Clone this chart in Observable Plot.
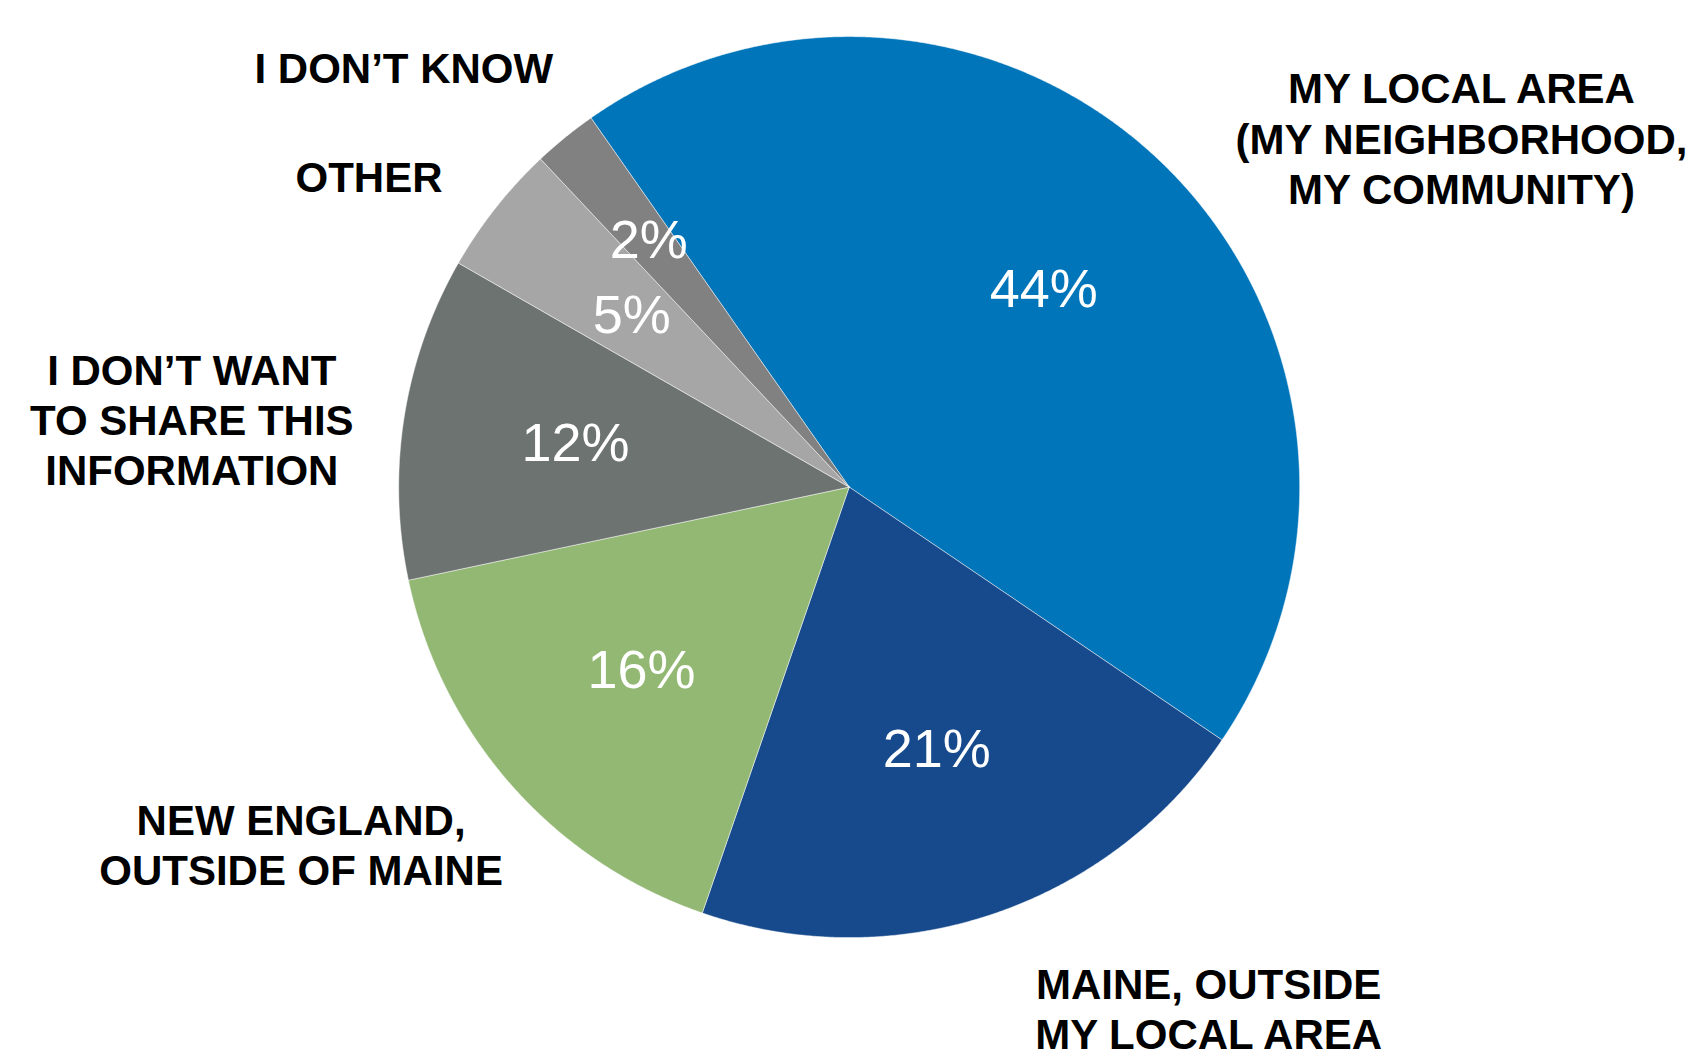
<!DOCTYPE html>
<html>
<head>
<meta charset="utf-8">
<script src="https://cdn.jsdelivr.net/npm/d3@7"></script>
<script src="https://cdn.jsdelivr.net/npm/@observablehq/plot@0.6"></script>
<style>
  html, body { margin: 0; padding: 0; background: #fff; }
  #chart svg { display: block; }
</style>
</head>
<body>
<div id="chart"></div>
<script>
// ---- data ----
const categories = [
  "MY LOCAL AREA\n(MY NEIGHBORHOOD,\nMY COMMUNITY)",
  "MAINE, OUTSIDE\nMY LOCAL AREA",
  "NEW ENGLAND,\nOUTSIDE OF MAINE",
  "I DON\u2019T WANT\nTO SHARE THIS\nINFORMATION",
  "OTHER",
  "I DON\u2019T KNOW"
];
const shares = [44.2, 20.8, 16.4, 11.6, 4.7, 2.3];
const percentLabels = ["44%", "21%", "16%", "12%", "5%", "2%"];

// ---- styling / layout ----
const colors = ["#0075BA", "#174A8C", "#93B874", "#6D7370", "#A6A6A6", "#808180"];
const startDeg = -34.97;                       // first slice begins here (clockwise from 12 o'clock)
const labelAnchor = [                          // [angle in degrees, distance in radii] for category labels
  [60.27, 1.565], [145.40, 1.405], [236.92, 1.452], [275.92, 1.467], [302.94, 1.270], [313.37, 1.360]
];
const W = 1696, H = 1052, cx = 848.7, cy = 486.6, R = 450.5;

const rad = d => d * Math.PI / 180;
const start = rad(startDeg);
const arcs = d3.pie().sort(null).value(d => d).startAngle(start).endAngle(start + 2 * Math.PI)(shares);

// wedge outlines in unit-radius coordinates
const wedgePts = [];
arcs.forEach((a, i) => {
  const n = Math.max(2, Math.ceil((a.endAngle - a.startAngle) / (Math.PI / 720)));
  wedgePts.push({k: i, x: 0, y: 0});
  for (let j = 0; j <= n; j++) {
    const t = a.startAngle + (a.endAngle - a.startAngle) * j / n;
    wedgePts.push({k: i, x: Math.sin(t), y: Math.cos(t)});
  }
  wedgePts.push({k: i, x: 0, y: 0});
});

const pctPts = arcs.map((a, i) => {
  const m = (a.startAngle + a.endAngle) / 2;
  const r = shares[i] < 3 ? 0.705 : 0.615;
  return {x: r * Math.sin(m), y: r * Math.cos(m), t: percentLabels[i]};
});

const catPts = categories.map((c, i) => {
  const [ang, r] = labelAnchor[i];
  return {x: r * Math.sin(rad(ang)), y: r * Math.cos(rad(ang)), t: c};
});

const chart = Plot.plot({
  width: W,
  height: H,
  margin: 0,
  x: {domain: [-cx / R, (W - cx) / R], axis: null},
  y: {domain: [-(H - cy) / R, cy / R], axis: null},
  color: {domain: categories, range: colors},
  style: {fontFamily: "'Liberation Sans', Arial, Helvetica, sans-serif", background: "#fff"},
  marks: [
    Plot.line(wedgePts, {
      x: "x", y: "y", z: "k",
      fill: d => categories[d.k],
      stroke: "#ffffff", strokeWidth: 0.8, strokeOpacity: 0.6,
      strokeLinejoin: "miter", curve: "linear"
    }),
    Plot.text(pctPts, {
      x: "x", y: "y", text: "t",
      fill: "#ffffff", fontSize: 54, fontWeight: 400
    }),
    Plot.text(catPts, {
      x: "x", y: "y", text: "t",
      fill: "#000000", fontSize: 42, fontWeight: 700, lineHeight: 1.2
    })
  ]
});
document.getElementById("chart").appendChild(chart);
</script>
</body>
</html>
